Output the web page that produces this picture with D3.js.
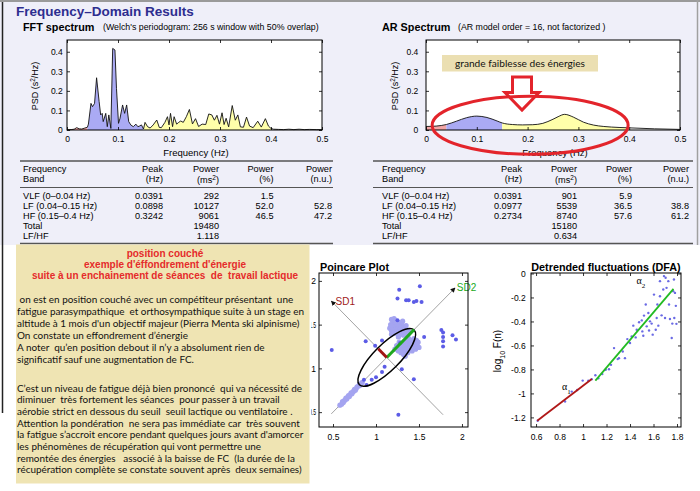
<!DOCTYPE html>
<html><head><meta charset="utf-8">
<script src="https://cdn.jsdelivr.net/npm/d3@7/dist/d3.min.js"></script>
<style>
html,body{margin:0;padding:0;background:#fff;}
svg{display:block;}
</style></head><body>
<svg id="chart" width="700" height="491"></svg>
<script>
// ================= DATA =================
const fftFreq = [0,0.008,0.014,0.019,0.024,0.029,0.035,0.040,0.042,0.047,0.050,0.054,0.058,0.063,0.066,0.069,0.071,0.076,0.079,0.082,0.086,0.0896,0.094,0.097,0.101,0.104,0.109,0.113,0.117,0.121,0.125,0.130,0.135,0.139,0.142,0.146,0.150,0.153,0.158,0.163,0.169,0.176,0.181,0.185,0.192,0.197,0.200,0.203,0.207,0.210,0.215,0.219,0.223,0.228,0.234,0.240,0.246,0.252,0.258,0.265,0.272,0.278,0.284,0.289,0.294,0.299,0.304,0.308,0.312,0.317,0.324,0.330,0.335,0.340,0.346,0.352,0.358,0.365,0.374,0.381,0.389,0.395,0.400,0.405,0.415,0.425,0.435,0.445,0.455,0.465,0.475,0.490,0.500];
const fftPsd = [0.002,0.002,0.004,0.012,0.006,0.005,0.010,0.014,0.030,0.136,0.119,0.136,0.267,0.145,0.077,0.085,0.043,0.085,0.017,0.077,0.008,0.417,0.409,0.213,0.034,0.060,0.128,0.085,0.128,0.043,0.026,0.017,0.030,0.017,0.020,0.026,0.005,0.039,0.017,0.010,0.026,0.051,0.013,0.012,0.039,0.068,0.026,0.085,0.017,0.068,0.030,0.039,0.046,0.039,0.068,0.105,0.031,0.058,0.018,0.030,0.028,0.082,0.077,0.050,0.075,0.030,0.088,0.028,0.060,0.016,0.125,0.050,0.077,0.016,0.014,0.066,0.020,0.012,0.045,0.015,0.058,0.020,0.008,0.004,0.003,0.002,0.004,0.002,0.004,0.002,0.003,0.002,0.002];

const arFreq = [0,0.02,0.04,0.06,0.08,0.10,0.12,0.14,0.15,0.17,0.19,0.21,0.23,0.25,0.26,0.273,0.29,0.31,0.33,0.35,0.38,0.40,0.45,0.50];
const arPsd  = [0.018,0.020,0.028,0.045,0.063,0.071,0.064,0.046,0.036,0.028,0.026,0.027,0.034,0.055,0.068,0.080,0.066,0.040,0.025,0.018,0.013,0.011,0.006,0.003];

const bandEdges = [[0,0.04],[0.04,0.15],[0.15,0.4]];

const specXTicks = [0,0.1,0.2,0.3,0.4,0.5];
const specXTickLabels = ["0","0.1","0.2","0.3","0.4","0.5"];
const specYTicks = [0,0.1,0.2,0.3,0.4];
const specYTickLabels = ["0","0.1","0.2","0.3","0.4"];

const tableHead1 = ["Frequency","Peak","Power","Power","Power"];
const tableHead2 = ["Band","(Hz)","(ms\u00B2)","(%)","(n.u.)"];
const fftTable = [
  ["VLF (0\u20130.04 Hz)","0.0391","292","1.5",""],
  ["LF (0.04\u20130.15 Hz)","0.0898","10127","52.0","52.8"],
  ["HF (0.15\u20130.4 Hz)","0.3242","9061","46.5","47.2"],
  ["Total","","19480","",""],
  ["LF/HF","","1.118","",""]
];
const arTable = [
  ["VLF (0\u20130.04 Hz)","0.0391","901","5.9",""],
  ["LF (0.04\u20130.15 Hz)","0.0977","5539","36.5","38.8"],
  ["HF (0.15\u20130.4 Hz)","0.2734","8740","57.6","61.2"],
  ["Total","","15180","",""],
  ["LF/HF","","0.634","",""]
];

// Poincare: dense (overlapping) beats and isolated beats
const poincareDense = [
  [0.58,0.58],[0.60,0.59],[0.61,0.62],[0.62,0.61],[0.63,0.63],[0.64,0.64],[0.65,0.66],[0.66,0.65],[0.67,0.67],[0.68,0.69],[0.69,0.68],[0.70,0.70],[0.71,0.72],[0.72,0.71],[0.73,0.73],[0.74,0.74],[0.75,0.76],[0.76,0.75],[0.77,0.77],[0.78,0.79],[0.80,0.80],[0.81,0.82],[0.82,0.81],[0.84,0.84],
  [1.16,1.46],[1.17,1.50],[1.18,1.43],[1.19,1.48],[1.20,1.52],[1.20,1.45],[1.21,1.40],[1.22,1.49],[1.23,1.44],[1.23,1.53],[1.24,1.47],[1.25,1.41],[1.25,1.50],[1.26,1.45],[1.27,1.38],[1.27,1.48],[1.28,1.52],[1.28,1.43],[1.29,1.46],[1.30,1.40],[1.30,1.50],[1.31,1.44],[1.32,1.48],[1.32,1.38],[1.33,1.42],[1.34,1.46],[1.35,1.40],[1.35,1.49],[1.36,1.44],[1.37,1.38],[1.38,1.42],[1.22,1.55],[1.31,1.54],[1.18,1.39],[1.26,1.36],[1.18,1.56],[1.21,1.57],
  [1.22,1.22],[1.24,1.26],[1.26,1.20],[1.28,1.24],[1.29,1.18],[1.30,1.28],[1.31,1.22],[1.32,1.16],[1.33,1.26],[1.34,1.20],[1.35,1.30],[1.36,1.24],[1.37,1.18],[1.38,1.28],[1.39,1.22],[1.40,1.32],[1.41,1.26],[1.42,1.20],[1.43,1.30],[1.44,1.24],[1.45,1.28],[1.46,1.22],[1.47,1.32],[1.48,1.26],[1.49,1.30],[1.50,1.24],[1.38,1.34],[1.44,1.34],[1.34,1.14],[1.27,1.30]
];
const poincareSparse = [
  [0.485,1.21],[1.51,1.94],[1.27,1.90],[1.25,1.80],[1.35,1.78],[1.38,1.78],[1.44,1.76],[1.47,1.77],[1.53,1.76],
  [1.25,1.55],[1.56,1.36],[1.76,1.44],[1.78,1.41],[1.89,1.38],[1.93,1.33],[1.78,1.36],[1.78,1.31],[1.78,1.25],
  [0.88,1.31],[1.07,1.32],[0.99,1.26],[1.28,1.29],[1.44,0.875],[1.26,0.47],[1.30,0.99],[1.10,1.02],[1.07,0.96],
  [1.00,0.90],[0.95,0.87],[0.89,0.81],[0.86,0.87]
];
const poincareCenter = [1.125,1.125];
const sd1 = 0.14, sd2 = 0.45;
const poincareTicks = [0.5,1,1.5,2];
const poincareTickLabels = ["0.5","1","1.5","2"];

const dfaPoints = [
  [0.614,-1.228],[0.847,-1.068],[0.904,-0.985],[0.95,-0.971],[0.997,-0.893],[1.045,-0.895],[1.074,-0.881],[1.105,-0.848],
  [1.13,-0.873],[1.164,-0.839],[1.193,-0.803],[1.221,-0.798],[1.238,-0.762],[1.264,-0.622],[1.295,-0.714],[1.306,-0.706],
  [1.338,-0.65],[1.357,-0.706],[1.377,-0.547],[1.40,-0.58],[1.414,-0.525],[1.428,-0.435],[1.448,-0.533],[1.457,-0.469],
  [1.477,-0.407],[1.50,-0.391],[1.505,-0.483],[1.513,-0.519],[1.519,-0.351],[1.534,-0.259],[1.542,-0.441],[1.556,-0.33],
  [1.562,-0.475],[1.57,-0.399],[1.584,-0.418],[1.593,-0.51],[1.604,-0.176],[1.619,-0.469],[1.627,-0.371],[1.633,-0.259],
  [1.641,-0.435],[1.655,-0.19],[1.655,-0.064],[1.669,-0.349],[1.683,-0.134],[1.689,-0.022],[1.698,-0.371],[1.703,-0.036],
  [1.711,-0.12],[1.726,-0.064],[1.732,-0.259],[1.74,-0.379],[1.755,-0.538],[1.76,-0.418],[1.768,-0.148],[1.774,-0.05],
  [1.777,-0.371],[1.783,-0.162],[1.79,-0.27],[1.795,-0.42]
];
const dfaAlpha1 = [[0.61,-1.228],[1.075,-0.88]];
const dfaAlpha2 = [[1.105,-0.893],[1.77,-0.128]];
const dfaXTicks = [0.6,0.8,1,1.2,1.4,1.6,1.8];
const dfaXTickLabels = ["0.6","0.8","1","1.2","1.4","1.6","1.8"];
const dfaYTicks = [0,-0.2,-0.4,-0.6,-0.8,-1,-1.2];
const dfaYTickLabels = ["0","-0.2","-0.4","-0.6","-0.8","-1","-1.2"];

const noteHeading = ["position couch\u00E9","exemple d'\u00E9ffondrement d'\u00E9nergie","suite \u00E0 un enchainement de s\u00E9ances  de  travail lactique"];
const notePara1 = [
  " on est en position couch\u00E9 avec un comp\u00E9titeur pr\u00E9sentant  une",
  "fatigue parasympathique  et orthosympathique suite \u00E0 un stage en",
  "altitude \u00E0 1 mois d'un objectif majeur (Pierra Menta ski alpinisme)",
  "On constate un effondrement d\u2019\u00E9nergie",
  "A noter  qu\u2019en position debout il n\u2019y a absolument rien de",
  "significatif sauf une augmentation de FC."
];
const notePara2 = [
  "C\u2019est un niveau de fatigue d\u00E9j\u00E0 bien prononc\u00E9  qui va n\u00E9cessit\u00E9 de",
  "diminuer  tr\u00E8s fortement les s\u00E9ances  pour passer \u00E0 un travail",
  "a\u00E9robie strict en dessous du seuil  seuil lactique ou ventilatoire .",
  "Attention la pond\u00E9ration  ne sera pas imm\u00E9diate car  tr\u00E8s souvent",
  "la fatigue s\u2019accroit encore pendant quelques jours avant d'amorcer",
  "les ph\u00E9nom\u00E8nes de r\u00E9cup\u00E9ration qui vont permettre une",
  "remont\u00E9e des \u00E9nergies   associ\u00E9 \u00E0 la baisse de FC  (la dur\u00E9e de la",
  "r\u00E9cup\u00E9ration compl\u00E8te se constate souvent apr\u00E8s  deux semaines)"
];
const arNote = "grande faiblesse des \u00E9nergies";

// ================= DRAWING =================
const SANS = '"Liberation Sans", Arial, Helvetica, sans-serif';
const BODY = 'Lato, "Open Sans", sans-serif';
const bandFill = ["#f2a5a5","#aaaaf4","#ffffaa"];
const svg = d3.select("#chart");
const defs = svg.append("defs");
let uid = 0;

// page background
svg.append("rect").attr("x",0).attr("y",0).attr("width",700).attr("height",245).attr("fill","#efeff9");
svg.append("rect").attr("x",0).attr("y",0).attr("width",700).attr("height",2).attr("fill","#9a9a9a");
svg.append("line").attr("x1",697.5).attr("x2",697.5).attr("y1",0).attr("y2",245).attr("stroke","#a0a0a0").attr("stroke-width",1.5);
svg.append("line").attr("x1",2.5).attr("x2",2.5).attr("y1",2).attr("y2",413).attr("stroke","#222").attr("stroke-width",1.5);

function frame(x,y,xt,xl,yt,yl,fs,padB,padL){
  const [xa,xb]=x.range(), [ya,yb]=y.range();
  const g=svg.append("g");
  g.append("g").attr("class","ax-bottom").attr("transform",`translate(0,${ya})`).call(d3.axisBottom(x).tickValues(xt).tickFormat((d,i)=>xl[i]).tickSizeInner(-3).tickSizeOuter(0).tickPadding(padB));
  g.append("g").attr("transform",`translate(0,${yb})`).call(d3.axisTop(x).tickValues(xt).tickFormat("").tickSizeInner(-3).tickSizeOuter(0));
  g.append("g").attr("class","ax-left").attr("transform",`translate(${xa},0)`).call(d3.axisLeft(y).tickValues(yt).tickFormat((d,i)=>yl[i]).tickSizeInner(-3).tickSizeOuter(0).tickPadding(padL));
  g.append("g").attr("transform",`translate(${xb},0)`).call(d3.axisRight(y).tickValues(yt).tickFormat("").tickSizeInner(-3).tickSizeOuter(0));
  g.selectAll(".domain").remove();
  g.selectAll(".tick line").attr("stroke","#000").attr("stroke-width",0.8);
  g.selectAll("text").attr("fill","#000").style("font-family",SANS).style("font-size",fs+"px");
  g.append("rect").attr("x",xa).attr("y",yb).attr("width",xb-xa).attr("height",ya-yb)
    .attr("fill","none").attr("stroke","#000").attr("stroke-width",1);
  return g;
}

function psdLabel(cx,cy){
  const t=svg.append("text").attr("transform",`translate(${cx},${cy}) rotate(-90)`).attr("text-anchor","middle")
    .style("font-family",SANS).style("font-size","9px").attr("fill","#000");
  t.append("tspan").text("PSD (s");
  t.append("tspan").attr("baseline-shift","super").style("font-size","6.5px").text("2");
  t.append("tspan").text("/Hz)");
}

function spectrum(x0,x1,freqs,psd,curve,padL,ylabX,xlabX){
  const x=d3.scaleLinear().domain([0,0.5]).range([x0,x1]);
  const y=d3.scaleLinear().domain([0,0.46]).range([130,40]);
  svg.append("rect").attr("x",x0).attr("y",40).attr("width",x1-x0).attr("height",90).attr("fill","#fff");
  const pts=freqs.map((f,i)=>[f,psd[i]]);
  const area=d3.area().x(d=>x(d[0])).y0(y(0)).y1(d=>y(d[1])).curve(curve);
  bandEdges.forEach((b,i)=>{
    const id="clip"+(uid++);
    defs.append("clipPath").attr("id",id).append("rect").attr("x",x(b[0])).attr("y",30).attr("width",x(b[1])-x(b[0])).attr("height",110);
    svg.append("path").attr("d",area(pts)).attr("fill",bandFill[i]).attr("clip-path",`url(#${id})`);
  });
  svg.append("path").attr("d",d3.line().x(d=>x(d[0])).y(d=>y(d[1])).curve(curve)(pts))
    .attr("fill","none").attr("stroke","#111").attr("stroke-width",0.9);
  frame(x,y,specXTicks,specXTickLabels,specYTicks,specYTickLabels,8.5,5.5,padL);
  svg.append("text").attr("x",xlabX).attr("y",156).attr("text-anchor","middle")
    .style("font-family",SANS).style("font-size","9.5px").text("Frequency (Hz)");
  psdLabel(ylabX,86);
  return {x,y};
}

// Title
svg.append("text").attr("x",16).attr("y",16).style("font-family",SANS).style("font-size","13.5px").style("font-weight","bold")
  .attr("fill","#2d2d8f").text("Frequency\u2013Domain Results");
svg.append("text").attr("x",23).attr("y",31).style("font-family",SANS).style("font-size","10.8px").style("font-weight","bold").text("FFT spectrum");
svg.append("text").attr("x",103).attr("y",30).style("font-family",SANS).style("font-size","8.8px").text("(Welch's periodogram: 256 s window with 50% overlap)");
svg.append("text").attr("x",382).attr("y",31).style("font-family",SANS).style("font-size","10.8px").style("font-weight","bold").text("AR Spectrum");
svg.append("text").attr("x",458).attr("y",30).style("font-family",SANS).style("font-size","8.8px").text("(AR model order = 16, not factorized )");

spectrum(67,322,fftFreq,fftPsd,d3.curveLinear,4.3,38,196);
const ar = spectrum(426,680,arFreq,arPsd,d3.curveMonotoneX,7.7,398,555);

// AR annotation
svg.append("rect").attr("x",442).attr("y",55).attr("width",156).attr("height",16.5).attr("fill","#ebdfb2");
const arT = svg.append("text").attr("x",455).attr("y",66.5).style("font-family",BODY).style("font-size","10px").attr("fill","#111").text(arNote);
arT.attr("textLength",130).attr("lengthAdjust","spacingAndGlyphs");
svg.append("path")
  .attr("d",`M512.5,77 L531.5,77 L531.5,92.5 L539,92.5 L522,110 L505,92.5 L512.5,92.5 Z`)
  .attr("fill","none").attr("stroke","#e3242b").attr("stroke-width",3).attr("stroke-linejoin","miter");
svg.append("ellipse").attr("cx",ar.x(0.205)).attr("cy",ar.y(0.024)).attr("rx",98).attr("ry",29)
  .attr("fill","none").attr("stroke","#e3242b").attr("stroke-width",3);

// Tables
function table(left,rights,lineX0,lineX1,rows){
  const g=svg.append("g").style("font-family",SANS).style("font-size","9.2px").attr("fill","#000");
  [161,187.5,243.5].forEach((yy,i)=>g.append("line").attr("x1",lineX0).attr("x2",lineX1).attr("y1",yy).attr("y2",yy)
    .attr("stroke","#555").attr("stroke-width",i===1?1:1.4));
  const colX=[left].concat(rights);
  tableHead1.forEach((h,i)=>g.append("text").attr("x",colX[i]).attr("y",171.5).attr("text-anchor",i?"end":"start").text(h));
  tableHead2.forEach((h,i)=>{
    const t=g.append("text").attr("x",colX[i]).attr("y",i===2?183:181.5).attr("text-anchor",i?"end":"start");
    if(h.indexOf("\u00B2")>=0){
      t.append("tspan").text("(ms");
      t.append("tspan").attr("baseline-shift","super").style("font-size","6.5px").text("2");
      t.append("tspan").text(")");
    } else t.text(h);
  });
  rows.forEach((r,j)=>r.forEach((c,i)=>{
    if(c!=="") g.append("text").attr("x",colX[i]).attr("y",198.5+j*10.2).attr("text-anchor",i?"end":"start").text(c);
  }));
}
table(23,[163,219,273.5,332],20,333,fftTable);
table(382,[522,577,632,689],373,693,arTable);

// ---------- Poincare ----------
{
  const x=d3.scaleLinear().domain([0.337,2.07]).range([319,468]);
  const y=d3.scaleLinear().domain([0.33,2.09]).range([427,273]);
  svg.append("rect").attr("x",319).attr("y",273).attr("width",149).attr("height",154).attr("fill","#fff");
  defs.append("marker").attr("id","arr").attr("viewBox","0 0 10 10").attr("refX",9).attr("refY",5)
    .attr("markerWidth",5).attr("markerHeight",5).attr("orient","auto").attr("markerUnits","userSpaceOnUse")
    .append("path").attr("d","M0,0 L10,5 L0,10 Z").attr("fill","#111");
  svg.append("line").attr("x1",x(0.48)).attr("y1",y(0.48)).attr("x2",x(1.92)).attr("y2",y(1.92))
    .attr("stroke","#999").attr("stroke-width",0.9).attr("marker-end","url(#arr)");
  svg.append("line").attr("x1",x(1.78)).attr("y1",y(0.47)).attr("x2",x(0.48)).attr("y2",y(1.77))
    .attr("stroke","#999").attr("stroke-width",0.9).attr("marker-end","url(#arr)");
  svg.append("g").selectAll("circle").data(poincareDense).join("circle")
    .attr("cx",d=>x(d[0])).attr("cy",d=>y(d[1])).attr("r",2.6).attr("fill","#a4a4f0");
  svg.append("g").selectAll("circle").data(poincareSparse).join("circle")
    .attr("cx",d=>x(d[0])).attr("cy",d=>y(d[1])).attr("r",2).attr("fill","#5c5ce6");
  const cx=x(poincareCenter[0]), cy=y(poincareCenter[1]);
  const k=(x(1)-x(0));
  svg.append("ellipse").attr("cx",cx).attr("cy",cy).attr("rx",sd2*k).attr("ry",(sd1+0.01)*k)
    .attr("transform",`rotate(-45 ${cx} ${cy})`).attr("fill","none").attr("stroke","#000").attr("stroke-width",1.5);
  const u=Math.SQRT1_2;
  svg.append("line").attr("x1",cx).attr("y1",cy).attr("x2",x(poincareCenter[0]+sd2*u)).attr("y2",y(poincareCenter[1]+sd2*u))
    .attr("stroke","#1fa81f").attr("stroke-width",3);
  svg.append("line").attr("x1",cx).attr("y1",cy).attr("x2",x(poincareCenter[0]-sd1*u)).attr("y2",y(poincareCenter[1]+sd1*u))
    .attr("stroke","#a01414").attr("stroke-width",3);
  svg.append("text").attr("x",x(0.53)).attr("y",y(1.73)).style("font-family",SANS).style("font-size","10px").attr("fill","#a01818").text("SD1");
  svg.append("text").attr("x",x(1.94)).attr("y",y(1.89)).style("font-family",SANS).style("font-size","10px").attr("fill","#22aa22").text("SD2");
  const pg = frame(x,y,poincareTicks,poincareTickLabels,poincareTicks,poincareTickLabels,8.5,7.3,3);
  // labels partly hidden behind the note box: narrow them and show only the visible strip
  pg.select(".ax-left").selectAll("text").each(function(){
    const t=d3.select(this);
    if(t.text().length>1) t.attr("textLength",7).attr("lengthAdjust","spacingAndGlyphs");
  });
  defs.append("clipPath").attr("id","pyclip").append("rect").attr("x",-8).attr("y",250).attr("width",20).attr("height",200);
  pg.select(".ax-left").attr("clip-path","url(#pyclip)");
  svg.append("text").attr("x",320).attr("y",270.5).style("font-family",SANS).style("font-size","10.8px").style("font-weight","bold").text("Poincare Plot");
}

// ---------- DFA ----------
{
  const x=d3.scaleLinear().domain([0.557,1.834]).range([531,681]);
  const y=d3.scaleLinear().domain([-1.28,0.004]).range([427,273]);
  svg.append("rect").attr("x",531).attr("y",273).attr("width",150).attr("height",154).attr("fill","#fff");
  const line=d3.line().x(d=>x(d[0])).y(d=>y(d[1]));
  svg.append("g").selectAll("circle").data(dfaPoints).join("circle")
    .attr("cx",d=>x(d[0])).attr("cy",d=>y(d[1])).attr("r",1.2).attr("fill","#6a6ae4");
  svg.append("path").attr("d",line(dfaAlpha1)).attr("stroke","#b01818").attr("stroke-width",1.8).attr("fill","none");
  svg.append("path").attr("d",line(dfaAlpha2)).attr("stroke","#22bb22").attr("stroke-width",1.8).attr("fill","none");
  frame(x,y,dfaXTicks,dfaXTickLabels,dfaYTicks,dfaYTickLabels,8.5,6.7,5.3);
  svg.append("text").attr("x",606).attr("y",270.5).attr("text-anchor","middle").style("font-family",SANS).style("font-size","10.8px").style("font-weight","bold").text("Detrended fluctuations (DFA)");
  const yl=svg.append("text").attr("transform","translate(501,351) rotate(-90)").attr("text-anchor","middle")
    .style("font-family",SANS).style("font-size","10px");
  yl.append("tspan").text("log");
  yl.append("tspan").attr("baseline-shift","sub").style("font-size","7px").text("10");
  yl.append("tspan").text(" F(n)");
  const a1=svg.append("text").attr("x",x(0.82)).attr("y",y(-0.975)).style("font-family",'"Liberation Serif",serif').style("font-size","10px");
  a1.append("tspan").text("\u03B1"); a1.append("tspan").attr("baseline-shift","sub").style("font-size","7px").text("1");
  const a2=svg.append("text").attr("x",x(1.455)).attr("y",y(-0.09)).style("font-family",'"Liberation Serif",serif').style("font-size","10px");
  a2.append("tspan").text("\u03B1"); a2.append("tspan").attr("baseline-shift","sub").style("font-size","7px").text("2");
}

// ---------- Note box ----------
svg.append("rect").attr("x",16).attr("y",244.5).attr("width",293.5).attr("height",239).attr("fill","#efe4b3");
svg.append("g").selectAll("text").data(noteHeading).join("text")
  .attr("x",165).attr("y",(d,i)=>257+i*10.8).attr("text-anchor","middle")
  .style("font-family",SANS).style("font-size","10px").style("font-weight","bold").style("white-space","pre")
  .attr("fill","#e52b2b").text(d=>d);
const bodyG=svg.append("g").style("font-family",BODY).style("font-size","10.3px").attr("fill","#111");
const p1=bodyG.selectAll("text.p1").data(notePara1).join("text").attr("class","p1")
  .attr("x",17).attr("y",(d,i)=>303+i*12).style("white-space","pre").text(d=>d);
const p2=bodyG.selectAll("text.p2").data(notePara2).join("text").attr("class","p2")
  .attr("x",17).attr("y",(d,i)=>391.5+i*11.7).style("white-space","pre").text(d=>d);
const ref2=p1.nodes()[1].getComputedTextLength();
const ref3=p1.nodes()[2].getComputedTextLength();
const squeeze=Math.min(287/ref2, 284/ref3);
bodyG.selectAll("text").each(function(){
  const L=this.getComputedTextLength();
  if(L>0) d3.select(this).attr("textLength",L*squeeze).attr("lengthAdjust","spacingAndGlyphs");
});
</script>
</body></html>
